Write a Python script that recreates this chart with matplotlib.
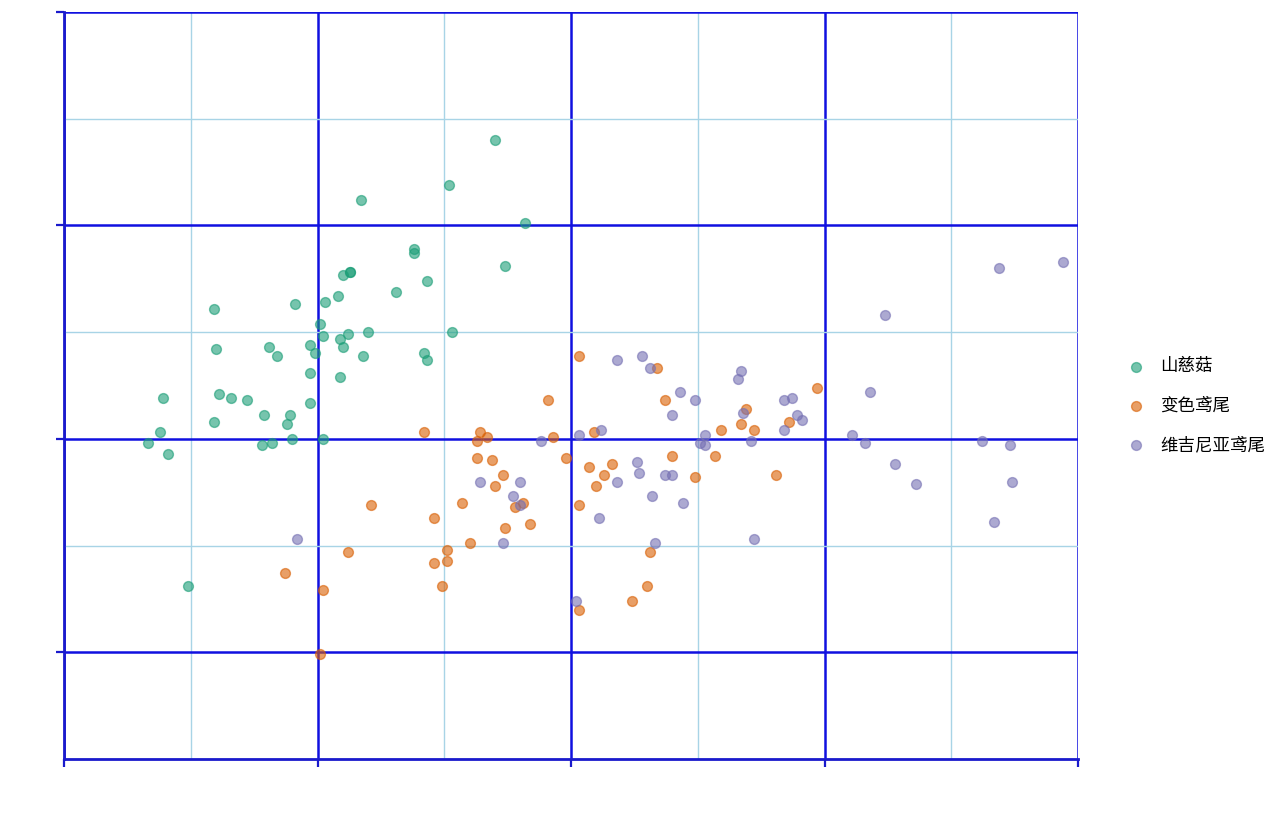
import matplotlib
matplotlib.use("Agg")
import matplotlib.pyplot as plt
from matplotlib.ticker import MultipleLocator, NullFormatter

plt.rcParams['font.family'] = ['Noto Sans CJK SC', 'DejaVu Sans']

species = ["山慈菇", "变色鸢尾", "维吉尼亚鸢尾"]
colors = ["#1b9e77", "#d95f02", "#7570b3"]

setosa_x = [5.70, 5.52, 5.17, 5.82, 5.38, 5.38, 5.74, 5.13, 5.13, 5.10,
            5.43, 5.31, 5.08, 5.03, 4.91, 4.59, 5.01, 5.02, 5.12, 5.20,
            5.09, 5.53, 4.97, 5.10, 4.60, 4.81, 4.84, 4.99, 5.18, 5.42,
            5.43, 4.97, 5.09, 4.39, 4.61, 4.66, 4.72, 4.97, 4.79, 4.89,
            4.59, 4.88, 4.38, 4.90, 5.02, 4.33, 4.78, 4.82, 4.41, 4.49]
setosa_y = [4.40, 4.19, 4.12, 4.01, 3.89, 3.87, 3.81, 3.78, 3.78, 3.77,
            3.74, 3.69, 3.67, 3.64, 3.63, 3.61, 3.54, 3.48, 3.49, 3.50,
            3.47, 3.50, 3.44, 3.43, 3.42, 3.43, 3.39, 3.40, 3.39, 3.40,
            3.37, 3.31, 3.29, 3.19, 3.21, 3.19, 3.18, 3.17, 3.11, 3.11,
            3.08, 3.07, 3.03, 3.00, 3.00, 2.98, 2.97, 2.98, 2.93, 2.31]

versicolor_x = [5.21, 5.12, 4.87, 5.02, 5.01, 5.91, 5.42, 5.64, 5.67, 5.63,
                5.93, 6.09, 5.63, 5.69, 5.98, 6.07, 6.13, 6.16, 5.73, 5.70,
                6.10, 5.57, 5.81, 5.78, 6.03, 5.46, 5.84, 5.74, 5.60, 5.51,
                5.51, 5.46, 5.49, 6.03, 6.03, 6.34, 6.37, 6.40, 6.49, 6.31,
                6.30, 6.24, 6.97, 6.69, 6.86, 6.67, 6.59, 6.72, 6.57, 6.81]
versicolor_y = [2.69, 2.47, 2.37, 2.29, 1.99, 3.18, 3.03, 3.03, 3.01, 2.99,
                3.01, 3.03, 2.91, 2.90, 2.91, 2.87, 2.83, 2.88, 2.83, 2.78,
                2.78, 2.70, 2.70, 2.68, 2.69, 2.63, 2.60, 2.58, 2.51, 2.48,
                2.43, 2.42, 2.31, 2.20, 3.39, 3.33, 3.18, 2.92, 2.82, 2.47,
                2.31, 2.24, 3.24, 3.14, 3.08, 3.07, 3.04, 3.04, 2.92, 2.83]

virginica_x = [4.92, 6.03, 6.12, 5.88, 5.64, 5.80, 5.77, 5.80, 6.11, 5.73,
               6.02, 6.18, 6.28, 6.31, 6.43, 6.49, 6.40, 6.53, 6.51, 6.53,
               6.26, 6.27, 6.18, 6.37, 6.40, 6.32, 6.44, 6.33, 6.67, 6.66,
               6.84, 6.87, 6.68, 6.89, 6.91, 6.84, 6.71, 6.72, 7.69, 7.94,
               7.24, 7.18, 7.11, 7.16, 7.28, 7.36, 7.62, 7.73, 7.74, 7.67]
virginica_y = [2.53, 3.02, 3.04, 2.99, 2.80, 2.80, 2.73, 2.69, 2.63, 2.51,
               2.24, 3.37, 3.39, 3.33, 3.22, 3.18, 3.11, 3.02, 2.98, 2.97,
               2.89, 2.84, 2.80, 2.83, 2.83, 2.73, 2.70, 2.51, 3.32, 3.28,
               3.18, 3.19, 3.12, 3.11, 3.09, 3.04, 2.99, 2.53, 3.80, 3.83,
               3.58, 3.22, 3.02, 2.98, 2.88, 2.79, 2.99, 2.97, 2.80, 2.61]

xs = [setosa_x, versicolor_x, virginica_x]
ys = [setosa_y, versicolor_y, virginica_y]

fig = plt.figure(figsize=(12.8, 8.32), dpi=100)
ax = fig.add_axes([64/1280, 73/832, 1014/1280, 747/832])

for name, c, x, y in zip(species, colors, xs, ys):
    ax.scatter(x, y, s=50, color=c, alpha=0.6, edgecolors=c, linewidths=1.0,
               label=name, zorder=3)

ax.set_xlim(4, 8)
ax.set_ylim(1.5, 5.0)
ax.xaxis.set_major_locator(MultipleLocator(1))
ax.xaxis.set_minor_locator(MultipleLocator(0.5))
ax.yaxis.set_major_locator(MultipleLocator(1))
ax.yaxis.set_minor_locator(MultipleLocator(0.5))
ax.xaxis.set_major_formatter(NullFormatter())
ax.yaxis.set_major_formatter(NullFormatter())

ax.grid(which='major', color='#1010e0', linewidth=1.8, zorder=1)
ax.grid(which='minor', color='#a8d4e6', linewidth=1.0, zorder=0)
ax.set_axisbelow(True)

for side in ['top', 'right']:
    ax.spines[side].set_visible(False)
for side in ['left', 'bottom']:
    ax.spines[side].set_color('#1a1acc')
    ax.spines[side].set_linewidth(2.0)

ax.tick_params(which='major', direction='out', length=6, width=1.6, color='#1a1acc')
ax.tick_params(which='minor', length=0)

leg = ax.legend(loc='center left', bbox_to_anchor=(1.024, 0.473), frameon=False,
                fontsize=12.6, labelspacing=1.22, handletextpad=0.4,
                markerscale=1.0, scatterpoints=1)

fig.savefig("out.png", dpi=100)
